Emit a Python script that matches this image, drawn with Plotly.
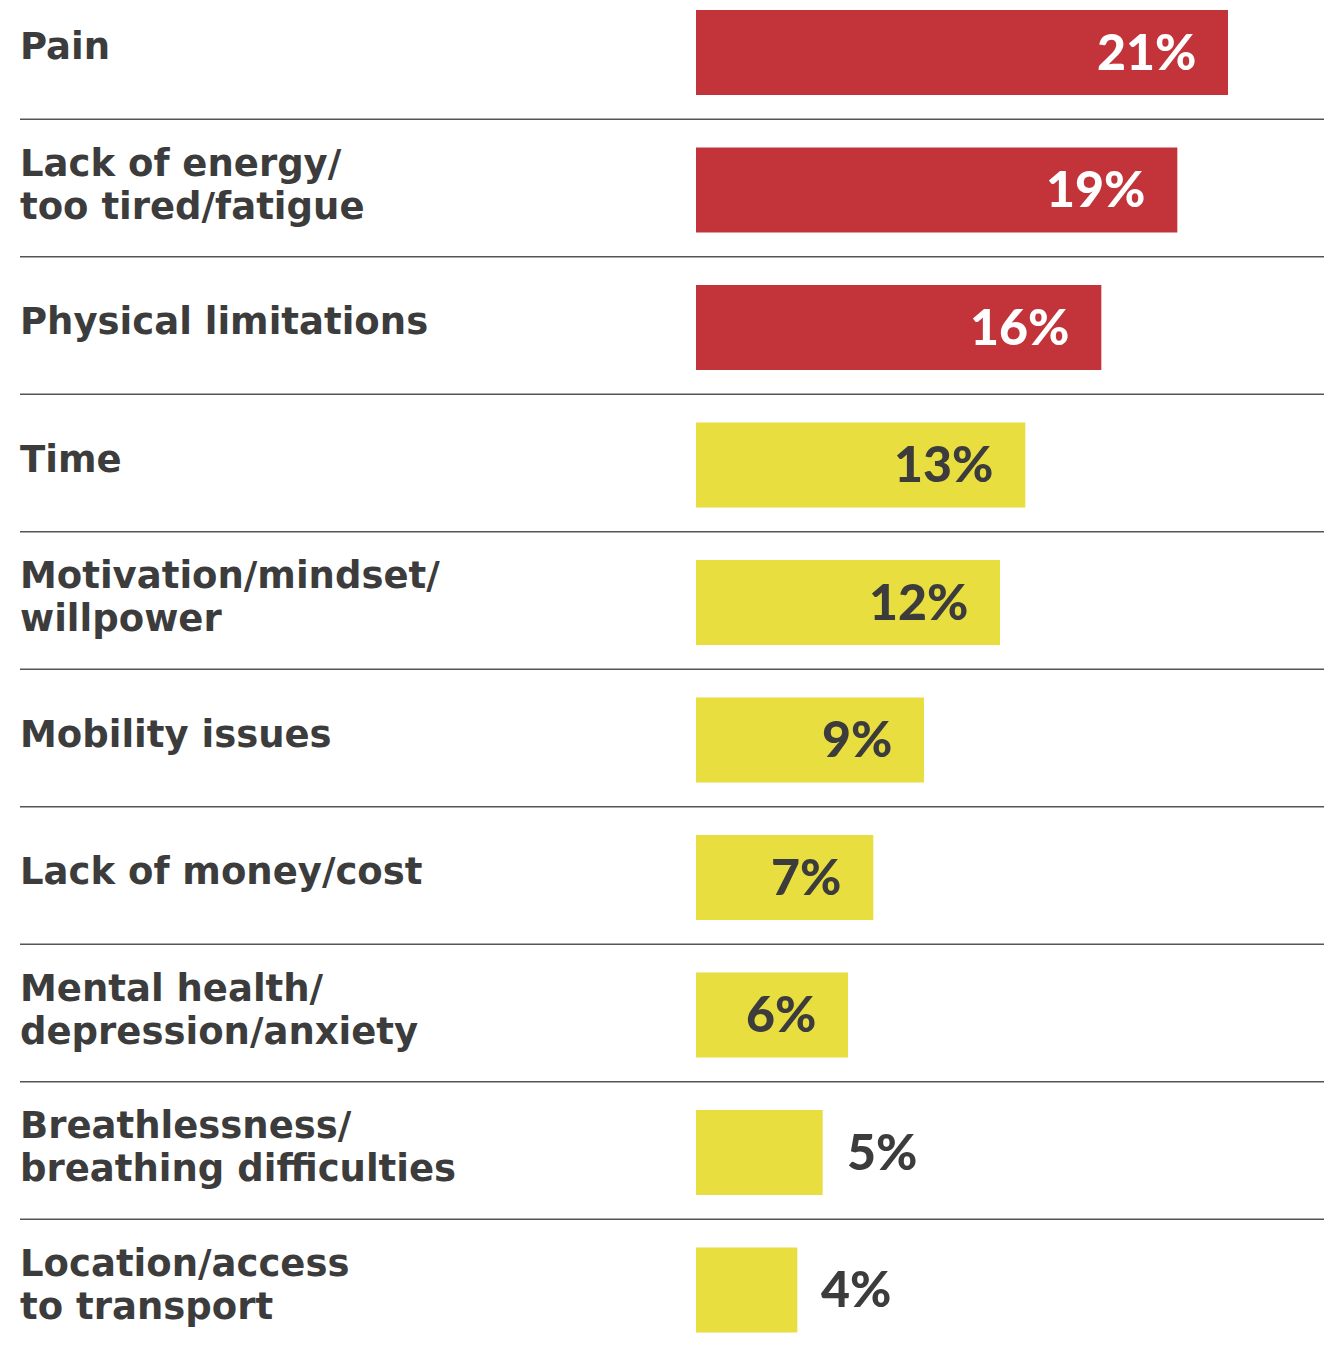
import plotly.graph_objects as go

# Barriers to being active, share of respondents (%)
label_lines = [
    ["Pain"],
    ["Lack of energy/", "too tired/fatigue"],
    ["Physical limitations"],
    ["Time"],
    ["Motivation/mindset/", "willpower"],
    ["Mobility issues"],
    ["Lack of money/cost"],
    ["Mental health/", "depression/anxiety"],
    ["Breathlessness/", "breathing difficulties"],
    ["Location/access", "to transport"],
]
values = [21, 19, 16, 13, 12, 9, 7, 6, 5, 4]
value_text = [f"{v}%" for v in values]

RED = "#C2343A"
YELLOW = "#E8DE40"
DARK = "#3C3C3C"
LABEL_FONT = "DejaVu Sans"
VALUE_FONT = "Lato"
TOP_GROUP = 3          # first rows highlighted in red
OUTSIDE_MAX = 5        # values this small get their label outside the bar

W, H = 1324, 1350
x0_px, px_per_unit = 696, (1228 - 696) / 21
row_pitch, row0_px = 137.5, 52.5

positions = list(range(len(values)))
colors = [RED if i < TOP_GROUP else YELLOW for i in positions]

fig = go.Figure(
    go.Bar(
        x=values,
        y=positions,
        orientation="h",
        width=0.618,
        marker=dict(color=colors, line=dict(width=0)),
        hoverinfo="skip",
    )
)

annotations = []
for i, (lines, v, txt) in enumerate(zip(label_lines, values, value_text)):
    # category label on the left
    if len(lines) == 1:
        shifts = [6]
    else:
        shifts = [27, -16]
    for line, s in zip(lines, shifts):
        annotations.append(dict(
            x=18 / W, xref="paper", xanchor="left",
            y=i, yref="y", yanchor="middle", yshift=s,
            text=line, showarrow=False,
            font=dict(family=LABEL_FONT, size=37, color=DARK, weight="bold"),
        ))
    # value label
    if v <= OUTSIDE_MAX:
        annotations.append(dict(
            x=v, xref="x", xanchor="left", xshift=22,
            y=i, yref="y", yanchor="middle", yshift=2,
            text=txt, showarrow=False,
            font=dict(family=VALUE_FONT, size=50, color=DARK, weight=900),
        ))
    else:
        annotations.append(dict(
            x=v, xref="x", xanchor="right", xshift=-30,
            y=i, yref="y", yanchor="middle", yshift=2,
            text=txt, showarrow=False,
            font=dict(family=VALUE_FONT, size=50,
                      color="white" if i < TOP_GROUP else DARK, weight=900),
        ))

# thin dividers between rows
shapes = [
    dict(type="line", xref="paper", yref="y",
         x0=20 / W, x1=1, y0=i + 0.485, y1=i + 0.485,
         line=dict(color="#555555", width=1.6))
    for i in range(len(values) - 1)
]

fig.update_layout(
    width=W, height=H,
    margin=dict(l=0, r=0, t=0, b=0),
    paper_bgcolor="white", plot_bgcolor="white",
    showlegend=False,
    annotations=annotations,
    shapes=shapes,
    xaxis=dict(range=[-x0_px / px_per_unit, (W - x0_px) / px_per_unit],
               visible=False, fixedrange=True),
    yaxis=dict(range=[(H - row0_px) / row_pitch, -row0_px / row_pitch],
               visible=False, fixedrange=True),
)

fig.write_html("out.html")
